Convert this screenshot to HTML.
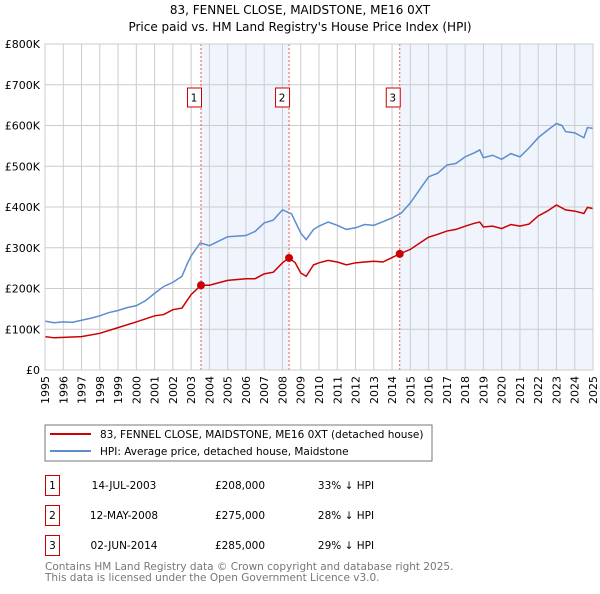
<!DOCTYPE html>
<html><head><meta charset="utf-8"><style>
body{margin:0;background:#fff;font-family:"DejaVu Sans","Liberation Sans",sans-serif;}
svg text{font-family:"DejaVu Sans","Liberation Sans",sans-serif;}
</style></head><body>
<svg id="c" width="600" height="590" xmlns="http://www.w3.org/2000/svg">
<text x="300" y="14" font-size="12" text-anchor="middle">83, FENNEL CLOSE, MAIDSTONE, ME16 0XT</text>
<text x="300" y="31" font-size="12" text-anchor="middle">Price paid vs. HM Land Registry's House Price Index (HPI)</text>
<g id="plot"></g>
<rect x="45" y="425" width="387" height="36" fill="#fff" stroke="#777"/>
<line x1="50" y1="434" x2="91" y2="434" stroke="#cc0000" stroke-width="2"/>
<text x="100" y="438" font-size="10.5">83, FENNEL CLOSE, MAIDSTONE, ME16 0XT (detached house)</text>
<line x1="50" y1="451" x2="91" y2="451" stroke="#5b8dd0" stroke-width="2"/>
<text x="100" y="455" font-size="10.5">HPI: Average price, detached house, Maidstone</text>
<g id="tbl" font-size="10.5"></g>
<text x="45" y="570" font-size="10.5" fill="#777">Contains HM Land Registry data © Crown copyright and database right 2025.</text>
<text x="45" y="581" font-size="10.5" fill="#777">This data is licensed under the Open Government Licence v3.0.</text>
</svg>
<script>
const hpiYears=[1995,1995.5,1996,1996.5,1997,1997.5,1998,1998.5,1999,1999.5,2000,2000.5,2001,2001.5,2002,2002.5,2002.8,2003,2003.5,2004,2005,2006,2006.5,2007,2007.5,2008,2008.5,2009,2009.3,2009.7,2010,2010.5,2011,2011.5,2012,2012.5,2013,2013.5,2014,2014.5,2015,2016,2016.5,2017,2017.5,2018,2018.5,2018.8,2019,2019.5,2020,2020.5,2021,2021.5,2022,2022.5,2023,2023.3,2023.5,2024,2024.5,2024.7,2025];
const hpiValues=[120,116,118,117,122,127,133,141,146,153,158,170,188,205,215,230,262,280,312,305,327,330,340,361,368,393,383,336,320,345,353,363,355,345,349,357,355,364,373,385,410,474,483,503,507,523,533,540,521,527,517,531,523,545,570,588,605,600,585,582,570,595,593];
const propYears=[1995,1995.5,1996,1997,1998,1999,2000,2001,2001.5,2002,2002.5,2002.8,2003,2003.54,2004,2005,2006,2006.5,2007,2007.5,2008,2008.36,2008.7,2009,2009.3,2009.7,2010,2010.5,2011,2011.5,2012,2012.5,2013,2013.5,2014,2014.42,2015,2015.5,2016,2016.5,2017,2017.5,2018,2018.5,2018.8,2019,2019.5,2020,2020.5,2021,2021.5,2022,2022.5,2023,2023.5,2024,2024.5,2024.7,2025];
const propValues=[82,79,80,82,90,104,118,133,136,148,152,172,185,208,208,220,224,224,236,240,263,275,263,238,230,258,263,269,265,258,263,265,267,265,276,285,296,311,326,333,341,345,353,360,363,351,353,347,357,353,358,378,390,405,393,390,384,399,396];
const saleLabels=["1","2","3"];
const saleYears=[2003.54,2008.36,2014.42];
const saleValues=[208,275,285];
const saleDates=["14-JUL-2003","12-MAY-2008","02-JUN-2014"];
const salePrices=["£208,000","£275,000","£285,000"];
const saleDiffs=["33% ↓ HPI","28% ↓ HPI","29% ↓ HPI"];
const yTicks=[0,100,200,300,400,500,600,700,800];
const yTickLabels=["£0","£100K","£200K","£300K","£400K","£500K","£600K","£700K","£800K"];
const xTicks=[1995,1996,1997,1998,1999,2000,2001,2002,2003,2004,2005,2006,2007,2008,2009,2010,2011,2012,2013,2014,2015,2016,2017,2018,2019,2020,2021,2022,2023,2024,2025];

const NS="http://www.w3.org/2000/svg";
const X0=45,X1=593,Y0=370,Y1=44;
const xs=y=>X0+(y-1995)/30*(X1-X0);
const ys=v=>Y0-v/800*(Y0-Y1);
function mk(tag,at,parent){const e=document.createElementNS(NS,tag);for(const k in at)e.setAttribute(k,at[k]);parent.appendChild(e);return e;}
const g=document.getElementById('plot');
let s=mk('rect',{x:xs(saleYears[0]),y:Y1,width:xs(saleYears[1])-xs(saleYears[0]),height:Y0-Y1,fill:'#f0f4fd'},g);


s=mk('rect',{x:xs(saleYears[2]),y:Y1,width:X1-xs(saleYears[2]),height:Y0-Y1,fill:'#f0f4fd'},g);


xTicks.forEach(t=>{const l=mk('line',{x1:xs(t),x2:xs(t),y1:Y1,y2:Y0,stroke:'#ccc','stroke-width':1},g);


const tx=mk('text',{x:0,y:0,'font-size':11,'text-anchor':'end',transform:`translate(${xs(t)+4},${Y0+6}) rotate(-90)`},g);tx.textContent=t;

});
yTicks.forEach((t,i)=>{const l=mk('line',{x1:X0,x2:X1,y1:ys(t),y2:ys(t),stroke:'#ccc','stroke-width':1},g);


const tx=mk('text',{x:X0-5,y:ys(t)+4,'font-size':11,'text-anchor':'end'},g);tx.textContent=yTickLabels[i];

});
saleYears.forEach((y,i)=>{const l=mk('line',{x1:xs(y),x2:xs(y),y1:Y1,y2:Y0,stroke:'#e55','stroke-width':1,'stroke-dasharray':'2,2'},g);


const b=mk('rect',{x:xs(y)-14+0.5,y:88,width:14,height:19,fill:'#fff',stroke:'#c00'},g);


const t=mk('text',{x:xs(y)-7,y:101.5,'font-size':10.5,'text-anchor':'middle'},g);t.textContent=saleLabels[i];

});
const hp=mk('polyline',{points:hpiYears.map((y,i)=>xs(y)+','+ys(hpiValues[i])).join(' '),fill:'none',stroke:'#5b8dd0','stroke-width':1.5},g);


const pp=mk('polyline',{points:propYears.map((y,i)=>xs(y)+','+ys(propValues[i])).join(' '),fill:'none',stroke:'#cc0000','stroke-width':1.5},g);


saleYears.forEach((y,i)=>{const c=mk('circle',{cx:xs(y),cy:ys(saleValues[i]),r:4,fill:'#cc0000'},g);

});
const ax=mk('rect',{x:X0,y:Y1,width:X1-X0,height:Y0-Y1,fill:'none',stroke:'#ccc'},g);


const tb=document.getElementById('tbl');
saleLabels.forEach((lab,i)=>{const yy=475+i*30;
const b=mk('rect',{x:45.5,y:yy+0.5,width:14,height:20,fill:'#fff',stroke:'#c00'},tb);


const cols=[[52.5,lab,'middle'],[124,saleDates[i],'middle'],[240,salePrices[i],'middle'],[346,saleDiffs[i],'middle']];
cols.forEach(([x,txt,a],j)=>{const t=mk('text',{x:x,y:yy+14,'text-anchor':a},tb);t.textContent=txt;

});});
</script>
</body></html>
